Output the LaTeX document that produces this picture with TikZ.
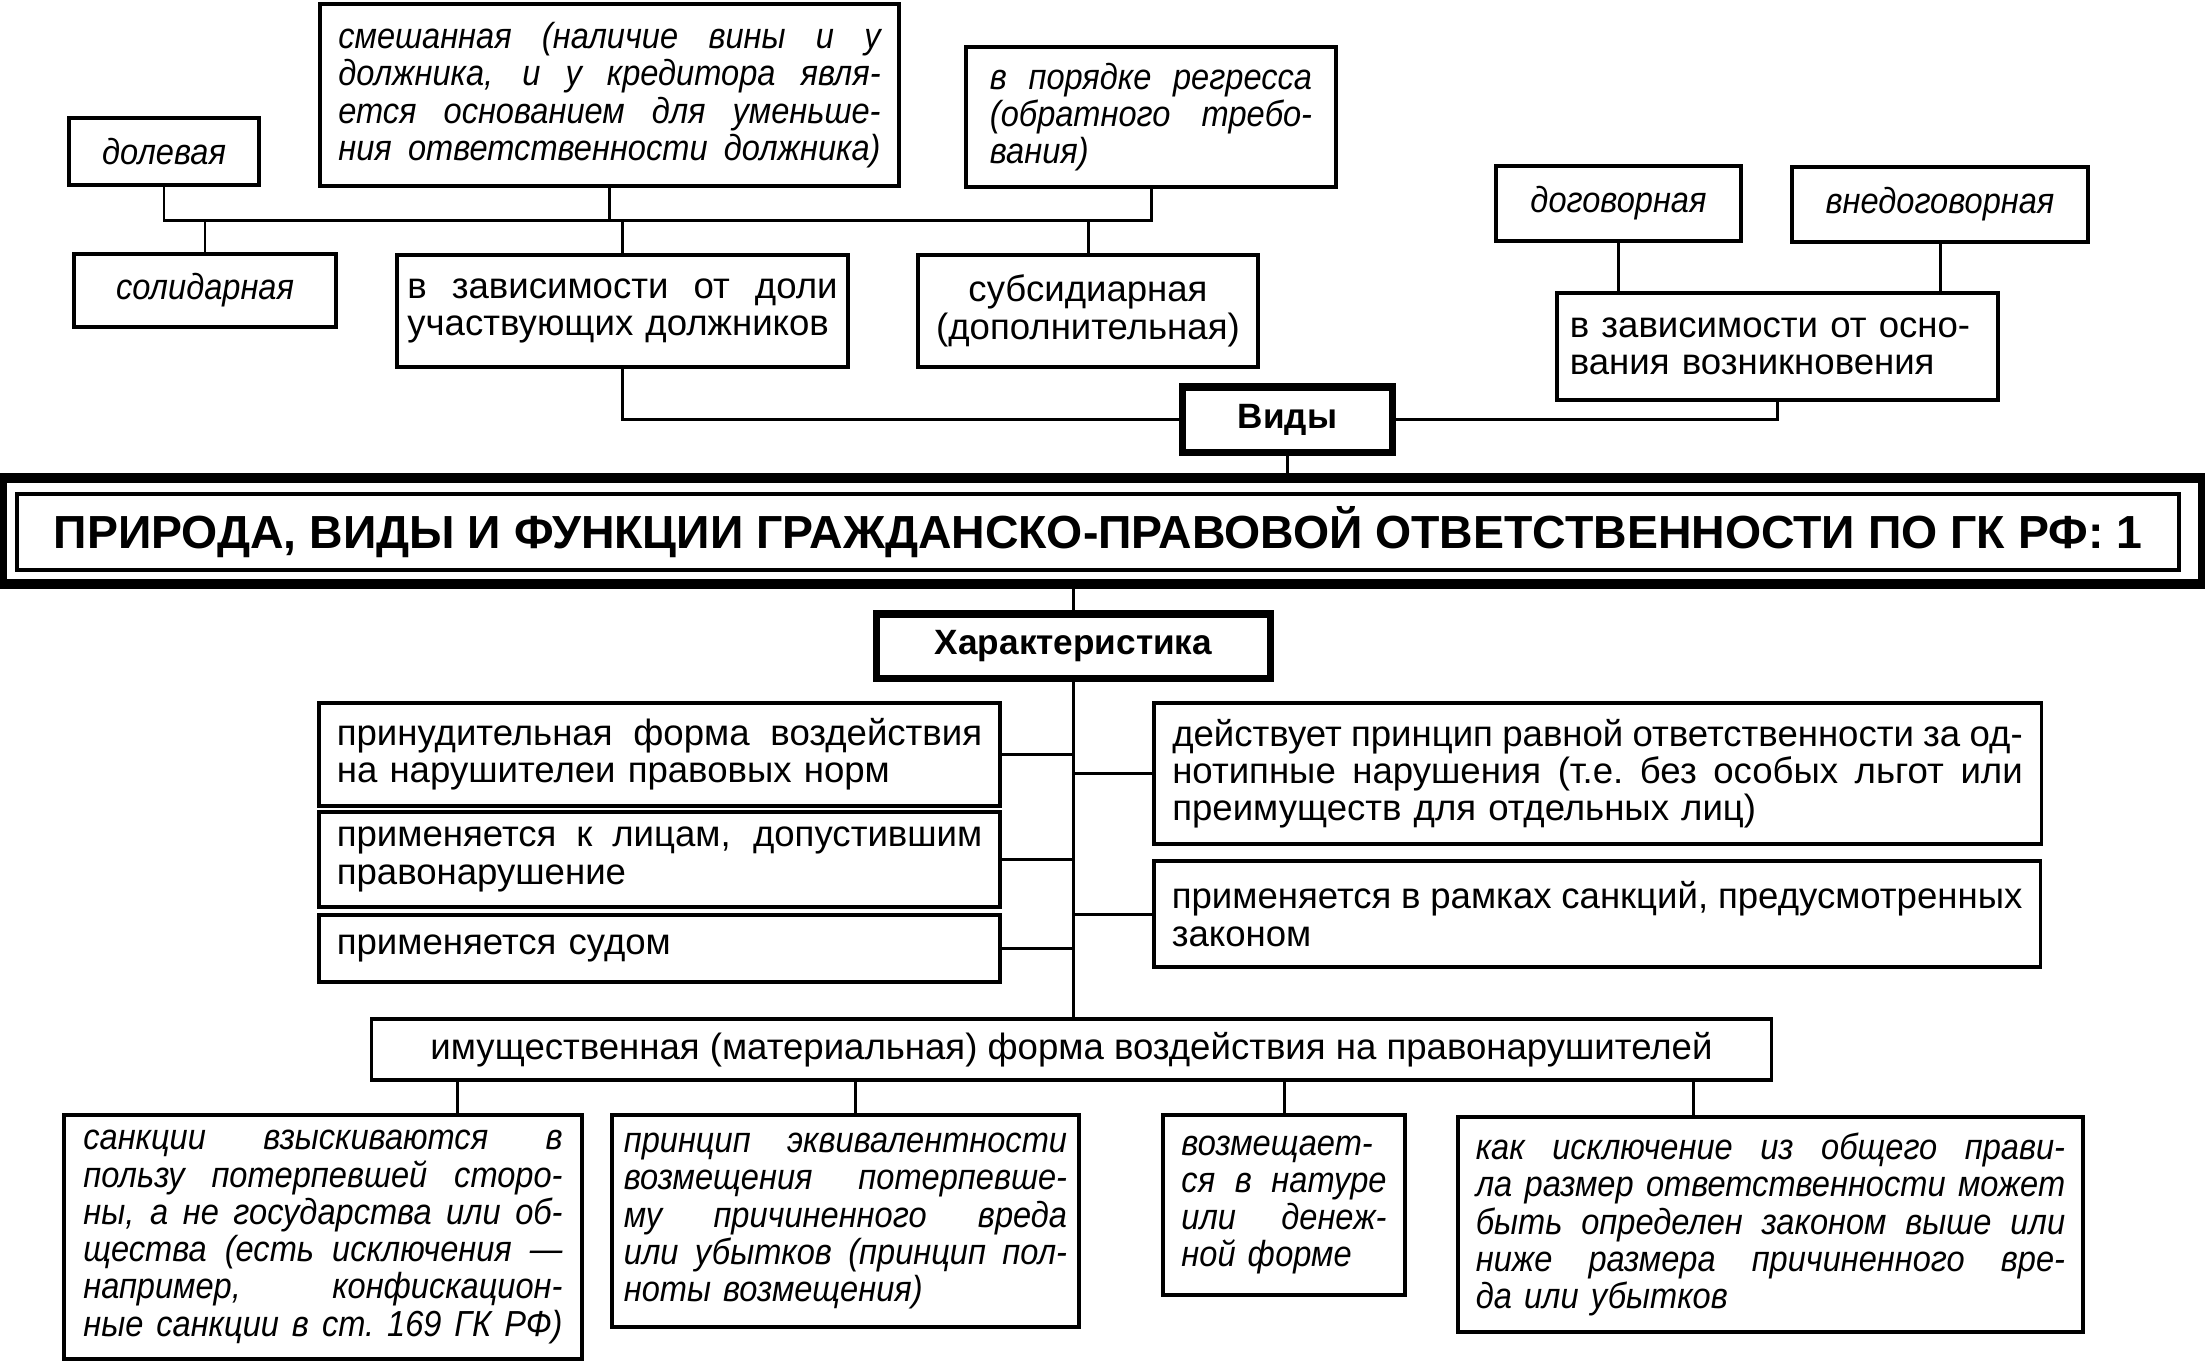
\documentclass[tikz,border=0pt]{standalone}
\usepackage{fontspec}
\setmainfont{Liberation Sans}
\newfontfamily\narrowit[FakeStretch=0.9]{Liberation Sans}
\usetikzlibrary{calc}

% one justified line of a box text
\newlength{\jw}
\newcommand{\jl}[1]{\makebox[\jw][s]{\spaceskip=0pt\xspaceskip=0pt #1}\\}
\newcommand{\jlast}[1]{\makebox[\jw][s]{\spaceskip=0pt\xspaceskip=0pt #1}}

\begin{document}
\begin{tikzpicture}[
  x=0.01cm,y=-0.01cm,
  cell/.style={draw, line width=1pt, inner sep=0pt, align=left,
               font=\fontsize{10.4}{10.6}\selectfont},
  cellit/.style={cell, font=\fontsize{10.3}{10.6}\selectfont\narrowit\itshape},
  jtext/.style={text width=#1, execute at begin node={\setlength{\jw}{#1}}},
  headbox/.style={draw, line width=2pt, inner sep=0pt,
                  font=\fontsize{10}{12}\selectfont\bfseries},
  link/.style={line width=0.85pt}
]
\useasboundingbox (0,0) rectangle (2205,1363);

% Kinds: the upper branch.
\node[cellit, minimum width=1.90cm, minimum height=0.67cm] (dol)
  at (164,151.5) {долевая};
\node[cellit, minimum width=5.79cm, minimum height=1.82cm, jtext=5.42cm] (smesh)
  at (609.5,95) {\jl{смешанная (наличие вины и у}\jl{должника, и у кредитора явля-}%
  \jl{ется основанием для уменьше-}\jlast{ния ответственности должника)}};
\node[cellit, minimum width=3.70cm, minimum height=1.40cm, jtext=3.22cm] (regr)
  at (1151,117) {\jl{в порядке регресса}\jl{(обратного требо-}вания)};

\node[cellit, minimum width=2.62cm, minimum height=0.73cm] (solid)
  at (205,290.5) {солидарная};
\node[cell, minimum width=4.51cm, minimum height=1.12cm, jtext=4.30cm] (doli)
  at (622.5,311) {\jl{в зависимости от доли}\mbox{участвующих должников}};
\node[cell, align=center, minimum width=3.40cm, minimum height=1.12cm] (subs)
  at (1088,311) {субсидиарная\\(дополнительная)};

\node[cellit, minimum width=2.45cm, minimum height=0.75cm] (dog)
  at (1618.5,203.5) {договорная};
\node[cellit, minimum width=2.96cm, minimum height=0.75cm] (vnedog)
  at (1940,204.5) {внедоговорная};
\node[cell, minimum width=4.41cm, minimum height=1.07cm, jtext=4.15cm] (osn)
  at (1777.5,346.5) {\mbox{в зависимости от осно-}\\\mbox{вания возникновения}};

\node[headbox, minimum width=2.09cm, minimum height=0.65cm] (vidy)
  at (1287.5,419.5) {Виды};

% Title with its double frame.
\node[draw, line width=2.6pt, minimum width=21.99cm, minimum height=1.06cm] (frame)
  at (1102.5,531) {};
\node[draw, line width=1pt, minimum width=21.61cm, minimum height=0.76cm,
      font=\fontsize{13.2}{15}\selectfont\bfseries] (title)
  at (1098,532) {ПРИРОДА, ВИДЫ И ФУНКЦИИ ГРАЖДАНСКО-ПРАВОВОЙ ОТВЕТСТВЕННОСТИ ПО ГК РФ: 1};

% Characteristics.
\node[headbox, minimum width=3.93cm, minimum height=0.64cm] (har)
  at (1073.5,646) {Характеристика};

\node[cell, minimum width=6.81cm, minimum height=1.03cm, jtext=6.45cm] (prin)
  at (659.5,754.5) {\jl{принудительная форма воздействия}на нарушителеи правовых норм};
\node[cell, minimum width=6.81cm, minimum height=0.95cm, jtext=6.45cm] (lic)
  at (659.5,859.5) {\jl{применяется к лицам, допустившим}правонарушение};
\node[cell, minimum width=6.81cm, minimum height=0.67cm, jtext=6.45cm] (sud)
  at (659.5,948.5) {применяется судом};

\node[cell, minimum width=8.87cm, minimum height=1.41cm, jtext=8.50cm] (deyst)
  at (1597.5,773.5) {\jl{действует принцип равной ответственности за од-}%
  \jl{нотипные нарушения (т.е.\ без особых льгот или}преимуществ для отдельных лиц)};
\node[cell, minimum width=8.86cm, minimum height=1.06cm, jtext=8.50cm] (ramk)
  at (1597,914) {\jl{применяется в рамках санкций, предусмотренных}законом};

\node[cell, minimum width=13.99cm, minimum height=0.61cm] (imush)
  at (1071.5,1049.5) {имущественная (материальная) форма воздействия на правонарушителей};

\node[cellit, minimum width=5.18cm, minimum height=2.44cm, jtext=4.79cm] (sank)
  at (323,1237) {\jl{санкции взыскиваются в}\jl{пользу потерпевшей сторо-}%
  \jl{ны, а не государства или об-}\jl{щества (есть исключения —}%
  \jl{например, конфискацион-}\jlast{ные санкции в ст.\ 169 ГК РФ)}};
\node[cellit, minimum width=4.67cm, minimum height=2.12cm, jtext=4.43cm] (ekv)
  at (845.5,1221) {\jl{принцип эквивалентности}\jl{возмещения потерпевше-}%
  \jl{му причиненного вреда}\jl{или убытков (принцип пол-}ноты возмещения)};
\node[cellit, minimum width=2.42cm, minimum height=1.80cm, jtext=2.05cm] (vozm)
  at (1284,1205) {\jl{возмещает-}\jl{ся в натуре}\jl{или денеж-}ной форме};
\node[cellit, minimum width=6.25cm, minimum height=2.15cm, jtext=5.89cm] (iskl)
  at (1770.5,1224.5) {\jl{как исключение из общего прави-}\jl{ла размер ответственности может}%
  \jl{быть определен законом выше или}\jl{ниже размера причиненного вре-}да или убытков};

% Connectors of the upper branch.
\coordinate (busy) at (0,220);
\draw[link] (dol.south) |- (regr.south |- busy) -- (regr.south);
\draw[link] (smesh.south) -- (smesh.south |- busy);
\foreach \n in {solid,doli,subs}
  \draw[link] (\n.north) -- (\n.north |- busy);
\draw[link] (doli.south) |- (vidy.west);
\draw[link] (osn.south) |- (vidy.east);
\draw[link] (dog.south) -- (dog.south |- osn.north);
\draw[link] (vnedog.south) -- (vnedog.south |- osn.north);
\draw[link] (vidy.south) -- (vidy.south |- frame.north);

% Connectors of the lower branch.
\draw[link] (frame.south -| har.north) -- (har.north);
\draw[link] (har.south) -- (har.south |- imush.north);
\foreach \n in {prin,lic,sud}
  \draw[link] (\n.east) -- (\n.east -| har.south);
\foreach \n in {deyst,ramk}
  \draw[link] (\n.west) -- (\n.west -| har.south);
\draw[link] ([xshift=1.34cm]sank.north) -- ([xshift=1.34cm]sank.north |- imush.south);
\draw[link] ([xshift=0.10cm]ekv.north) -- ([xshift=0.10cm]ekv.north |- imush.south);
\draw[link] (vozm.north) -- (vozm.north |- imush.south);
\draw[link] ([xshift=-0.77cm]iskl.north) -- ([xshift=-0.77cm]iskl.north |- imush.south);

\end{tikzpicture}
\end{document}
